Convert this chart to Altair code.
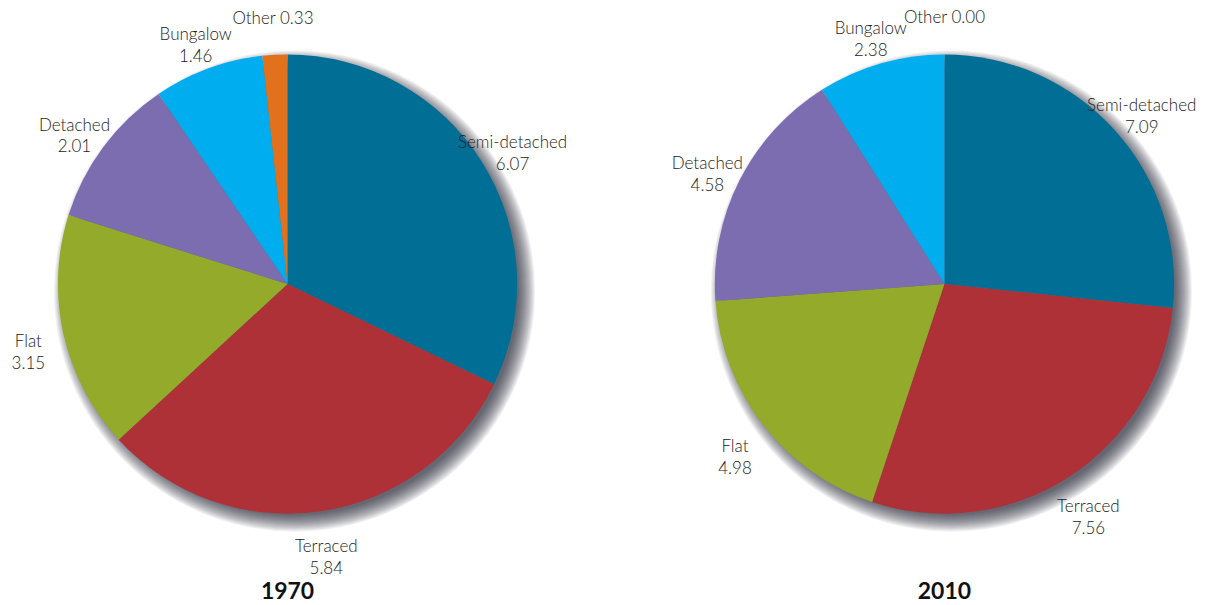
import altair as alt
import pandas as pd

types = ["Semi-detached", "Terraced", "Flat", "Detached", "Bungalow", "Other"]
values_1970 = [6.07, 5.84, 3.15, 2.01, 1.46, 0.33]
values_2010 = [7.09, 7.56, 4.98, 4.58, 2.38, 0.00]
years = ["1970", "2010"]
colors = ["#006e95", "#ad3136", "#94aa2b", "#7b6db0", "#00adee", "#e2711d"]

H = 573
R = 230
CY = 276
FONT = "Lato"
SHADOW_RADII = list(range(224, 242))


def panel(year, vals, width, cx):
    df = pd.DataFrame({"type": types, "value": vals, "idx": list(range(len(types)))})
    base = alt.Chart(df)
    layers = []
    for r in SHADOW_RADII:
        layers.append(
            base.transform_aggregate(total="sum(value)")
            .mark_arc(radius=r, color="#23262d", opacity=0.06)
            .encode(
                theta=alt.Theta("total:Q"),
                x=alt.value(cx + 7),
                y=alt.value(CY + 7),
            )
        )
    arcs = base.mark_arc(radius=R).encode(
        theta=alt.Theta("value:Q", stack=True),
        order=alt.Order("idx:Q", sort="ascending"),
        color=alt.Color("type:N", scale=alt.Scale(domain=types, range=colors), legend=None),
        x=alt.value(cx),
        y=alt.value(CY),
    )
    labels = base.transform_calculate(
        label="datum.type == 'Other' ? 'Other ' + format(datum.value, '.2f') : datum.type + '\\n' + format(datum.value, '.2f')"
    ).mark_text(
        radius=266, lineBreak="\n", font=FONT, fontSize=17, fontWeight=300,
        color="#222222", align="center", baseline="middle", lineHeight=22
    ).encode(
        theta=alt.Theta("value:Q", stack=True),
        order=alt.Order("idx:Q", sort="ascending"),
        text="label:N",
        x=alt.value(cx),
        y=alt.value(CY),
    )
    layers += [arcs, labels]
    return alt.layer(*layers).properties(
        width=width, height=H,
        title=alt.TitleParams(
            text=year, orient="bottom", anchor="middle", frame="group",
            dx=cx - width / 2, offset=0, fontSize=23, font=FONT,
            fontWeight="bold", color="#111111"
        ),
    )


chart = alt.hconcat(
    panel(years[0], values_1970, 600, 280),
    panel(years[1], values_2010, 589, 338),
    spacing=0,
).properties(padding=0).configure_view(stroke=None)

chart.save("out.html", embed_options={"renderer": "svg", "actions": False})
